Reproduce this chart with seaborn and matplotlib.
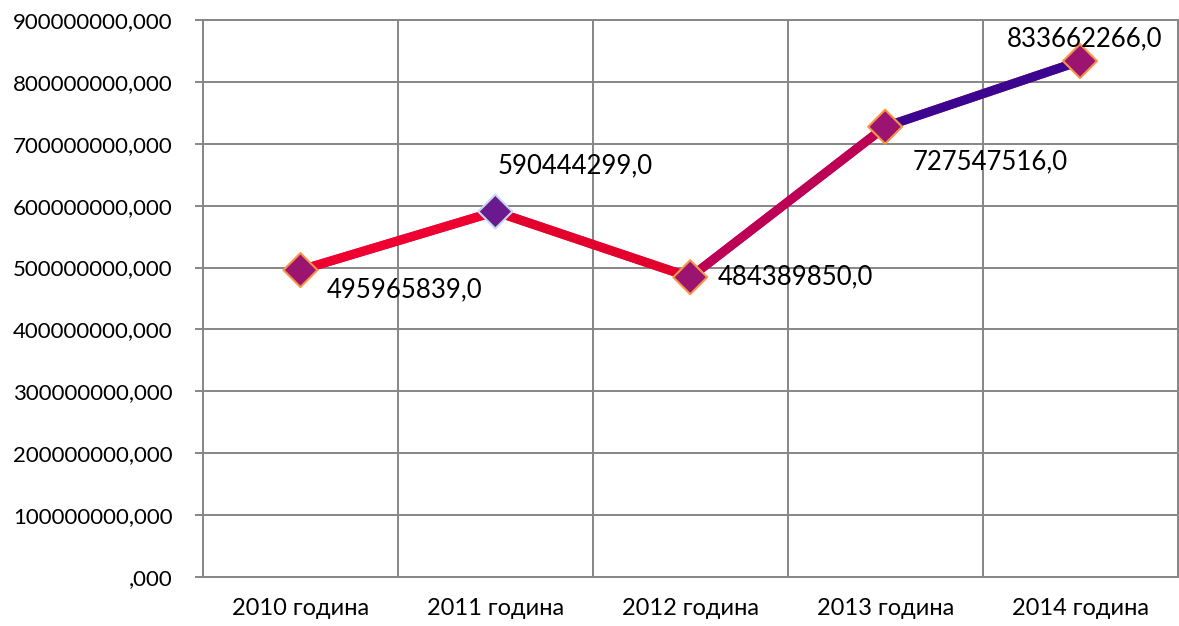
import numpy as np
import pandas as pd
import matplotlib
matplotlib.use("Agg")
import matplotlib.pyplot as plt
from matplotlib.collections import LineCollection
from matplotlib.ticker import FixedLocator, FuncFormatter
import seaborn as sns

# ---- data ----
years = ["2010 година", "2011 година", "2012 година", "2013 година", "2014 година"]
values = [495965839.0, 590444299.0, 484389850.0, 727547516.0, 833662266.0]
value_labels = ["495965839,0", "590444299,0", "484389850,0", "727547516,0", "833662266,0"]
y_ticks = [0, 100000000, 200000000, 300000000, 400000000,
           500000000, 600000000, 700000000, 800000000, 900000000]

# ---- styling ----
segment_colors = ["#EE0030", "#E2002C", "#BC0056", "#3A0590"]
marker_fill = ["#9A1470", "#6A1A8E", "#9A1470", "#9A1470", "#9A1470"]
marker_edge = ["#F79646", "#C6D9F1", "#F79646", "#F79646", "#F79646"]
# label offsets in points (dx, dy) and alignment
label_offsets = [(19, -14), (1.5, 33), (20, 0), (20, -25), (3, 16)]
label_ha = ["left", "left", "left", "left", "center"]

sns.set_theme(style="white")
plt.rcParams["font.family"] = ["Lato", "DejaVu Sans"]

fig = plt.figure(figsize=(11.79, 6.26), dpi=100)
ax = fig.add_axes([203 / 1179, 1 - 577 / 626, (1177.5 - 203) / 1179, (577 - 20) / 626])

df = pd.DataFrame({"pos": np.arange(len(years)), "value": values, "year": years})

grid_c = "#868686"

# base line through seaborn
sns.lineplot(data=df, x="pos", y="value", ax=ax, color=segment_colors[0],
             linewidth=6.5, zorder=3, solid_capstyle="round")
# per-segment colouring
pts = np.column_stack([df["pos"].values, df["value"].values])
segs = np.stack([pts[:-1], pts[1:]], axis=1)
lc = LineCollection(segs, colors=segment_colors, linewidths=6.5, zorder=4,
                    capstyle="round", joinstyle="round")
ax.add_collection(lc)

# markers
sns.scatterplot(data=df, x="pos", y="value", ax=ax, marker="D", s=300,
                color=marker_fill, edgecolor=marker_edge, linewidth=1.5,
                zorder=5, legend=False)
ax.collections[-1].set_facecolor(marker_fill)
ax.collections[-1].set_edgecolor(marker_edge)

# data labels
for i, (lab, (dx, dy)) in enumerate(zip(value_labels, label_offsets)):
    ax.annotate(lab, (i, values[i]), xytext=(dx, dy), textcoords="offset points",
                ha=label_ha[i], va="center", fontsize=18.5, color="#000000", zorder=6)

# axes
ax.set_xlim(-0.5, len(years) - 0.5)
ax.set_ylim(0, 900000000)
ax.set_xlabel("")
ax.set_ylabel("")

ax.set_xticks(np.arange(len(years)))
ax.set_xticklabels(years, fontsize=17)
ax.xaxis.set_minor_locator(FixedLocator(np.arange(-0.5, len(years), 1.0)))
ax.tick_params(axis="x", which="major", length=0, pad=15, labelcolor="#000000")
ax.tick_params(axis="x", which="minor", length=6, width=1.4, color=grid_c, direction="out")
ax.xaxis.grid(True, which="minor", color=grid_c, linewidth=1.4)
ax.xaxis.grid(False, which="major")

ax.yaxis.set_major_locator(FixedLocator(y_ticks))
ax.yaxis.set_major_formatter(FuncFormatter(
    lambda v, p: (f"{int(round(v))},000" if v > 0 else ",000")))
ax.tick_params(axis="y", which="major", length=6, width=1.4, color=grid_c,
               pad=16, labelsize=16, labelcolor="#000000", direction="out", left=True)
ax.yaxis.grid(True, color=grid_c, linewidth=1.4)
ax.set_axisbelow(True)

for side in ["left", "bottom", "right", "top"]:
    ax.spines[side].set_visible(True)
    ax.spines[side].set_color(grid_c)
    ax.spines[side].set_linewidth(1.4)

fig.savefig("out.png", dpi=100, facecolor="white")
